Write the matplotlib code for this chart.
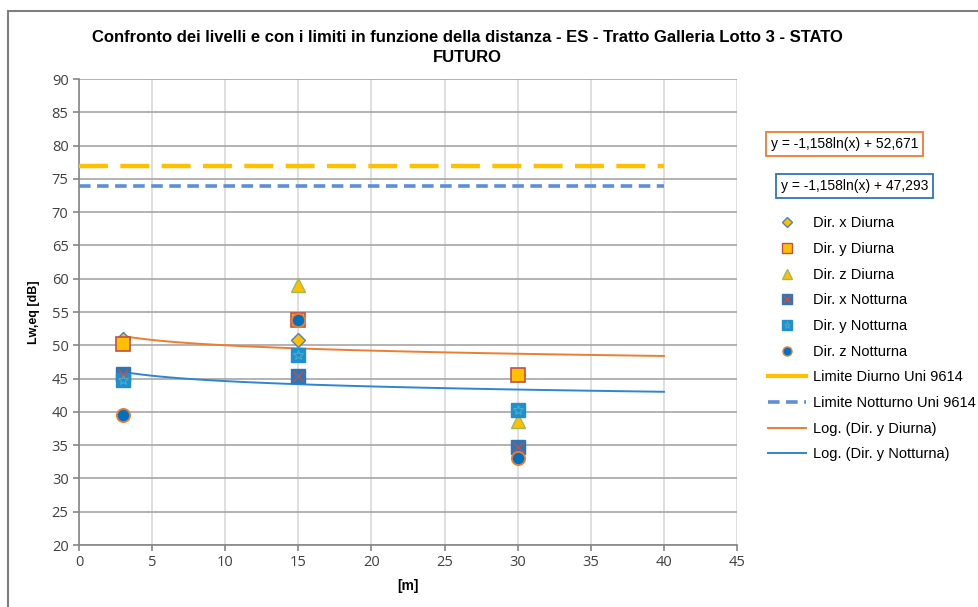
import numpy as np
import matplotlib
matplotlib.use("Agg")
import matplotlib.pyplot as plt
from matplotlib.lines import Line2D
from matplotlib.patches import Rectangle

# data
dist = [3, 15, 30]
x_diurna = [51.0, 50.8, 45.6]
y_diurna = [50.2, 53.8, 45.6]
z_diurna = [51.0, 59.0, 38.6]
x_notturna = [45.7, 45.4, 34.7]
y_notturna = [44.8, 48.5, 40.3]
z_notturna = [39.6, 53.8, 33.1]

limite_diurno = 77
limite_notturno = 74

# log trend coefficients as printed on the chart
trend_a = -1.158
trend_b_diurna = 52.671
trend_b_notturna = 47.293
trend_x = np.linspace(3, 40, 60)

plt.rcParams['font.family'] = ['Liberation Sans', 'DejaVu Sans']

fig = plt.figure(figsize=(9.79, 6.07), dpi=100)
ax = fig.add_axes([0.0807, 0.1021, 0.6721, 0.7677])

gold = '#FFC000'
orange = '#ED7D31'
blue = '#5B8FD9'
tblue = '#2E86D0'

# limits
ax.plot([0, 40], [limite_diurno] * 2, color=gold, lw=3.2, dashes=(6.5, 2.8), zorder=3)
ax.plot([0, 40], [limite_notturno] * 2, color=blue, lw=2.6, dashes=(3.2, 1.8), zorder=3)

# trend lines
ax.plot(trend_x, trend_a * np.log(trend_x) + trend_b_diurna, color=orange, lw=1.4, zorder=3)
ax.plot(trend_x, trend_a * np.log(trend_x) + trend_b_notturna, color=tblue, lw=1.4, zorder=3)

ms = 9.5
ax.plot(dist, z_diurna, '^', ms=ms, mfc=gold, mec='#9BBB59', mew=1, ls='none', zorder=4)
ax.plot(dist, x_diurna, 'D', ms=ms * 0.7, mfc=gold, mec='#4F81BD', mew=1, ls='none', zorder=4)
ax.plot(dist, y_diurna, 's', ms=ms, mfc=gold, mec='#C0504D', mew=1.2, ls='none', zorder=4)
ax.plot(dist, x_notturna, 's', ms=ms, mfc='#2E75B6', mec='#2E75B6', ls='none', zorder=4)
ax.plot(dist, x_notturna, 'x', ms=ms * 0.8, mec='#C0504D', mew=1, ls='none', zorder=5)
ax.plot(dist, y_notturna, 's', ms=ms, mfc='#1F8FD0', mec='#1F8FD0', ls='none', zorder=4)
ax.plot(dist, y_notturna, '*', ms=ms * 0.8, mfc='none', mec='#4BACC6', mew=0.8, ls='none', zorder=5)
ax.plot(dist, z_notturna, 'o', ms=ms, mfc='#0070C0', mec=orange, mew=1.3, ls='none', zorder=6)

ax.set_xlim(0, 45)
ax.set_ylim(20, 90)
ax.set_xticks(np.arange(0, 46, 5))
ax.set_yticks(np.arange(20, 91, 5))
ax.grid(axis='y', color='#A6A6A6', lw=1.2)
ax.grid(axis='x', color='#D9D9D9', lw=1.2)
ax.set_axisbelow(True)
for s in ['top', 'right']:
    ax.spines[s].set_visible(False)
for s in ['left', 'bottom']:
    ax.spines[s].set_color('#868686')
    ax.spines[s].set_linewidth(1.2)
ax.tick_params(colors='#868686', labelcolor='#404040', length=4, width=1.2)
for lab in ax.get_xticklabels() + ax.get_yticklabels():
    lab.set_fontfamily(['Open Sans', 'DejaVu Sans'])
    lab.set_fontsize(10.5)

ax.set_xlabel('[m]', fontsize=10, fontweight='bold', labelpad=6)
ax.set_ylabel('Lw,eq [dB]', fontsize=9, fontweight='bold', labelpad=8)
fig.text(0.477, 0.922, 'Confronto dei livelli e con i limiti in funzione della distanza - ES - Tratto Galleria Lotto 3 - STATO\nFUTURO',
         ha='center', va='center', fontsize=12, fontweight='bold', linespacing=1.4)

# equation boxes
fig.text(0.7875, 0.7628, 'y = -1,158ln(x) + 52,671', fontsize=10, ha='left', va='center',
         bbox=dict(boxstyle='square,pad=0.35', fc='white', ec=orange, lw=1.3))
fig.text(0.7975, 0.694, 'y = -1,158ln(x) + 47,293', fontsize=10, ha='left', va='center',
         bbox=dict(boxstyle='square,pad=0.35', fc='white', ec='#2E75B6', lw=1.3))

lms = 6.5
handles = [
    Line2D([], [], marker='D', ms=lms * 0.75, mfc=gold, mec='#4F81BD', ls='none'),
    Line2D([], [], marker='s', ms=lms, mfc=gold, mec='#C0504D', ls='none'),
    Line2D([], [], marker='^', ms=lms, mfc=gold, mec='#9BBB59', ls='none'),
    (Line2D([], [], marker='s', ms=lms, mfc='#2E75B6', mec='#2E75B6', ls='none'),
     Line2D([], [], marker='x', ms=lms * 0.8, mec='#C0504D', ls='none')),
    (Line2D([], [], marker='s', ms=lms, mfc='#1F8FD0', mec='#1F8FD0', ls='none'),
     Line2D([], [], marker='*', ms=lms * 0.8, mfc='none', mec='#4BACC6', mew=0.6, ls='none')),
    Line2D([], [], marker='o', ms=lms, mfc='#0070C0', mec=orange, ls='none'),
    Line2D([], [], color=gold, lw=3),
    Line2D([], [], color=blue, lw=2.6, dashes=(3.2, 1.8)),
    Line2D([], [], color=orange, lw=1.4),
    Line2D([], [], color=tblue, lw=1.4),
]
labels = ['Dir. x Diurna', 'Dir. y Diurna', 'Dir. z Diurna', 'Dir. x Notturna',
          'Dir. y Notturna', 'Dir. z Notturna', 'Limite Diurno Uni 9614',
          'Limite Notturno Uni 9614', 'Log. (Dir. y Diurna)', 'Log. (Dir. y Notturna)']
fig.legend(handles, labels, loc='upper left', bbox_to_anchor=(0.771, 0.665), frameon=False,
           fontsize=10.5, labelspacing=0.8, handlelength=2.6, handletextpad=0.5)

# chart area border
fig.patches.append(Rectangle((0.008, -0.05), 1.05, 1.032, transform=fig.transFigure,
                             fill=False, ec='#7F7F7F', lw=1.5))

fig.savefig('out.png', dpi=100)
